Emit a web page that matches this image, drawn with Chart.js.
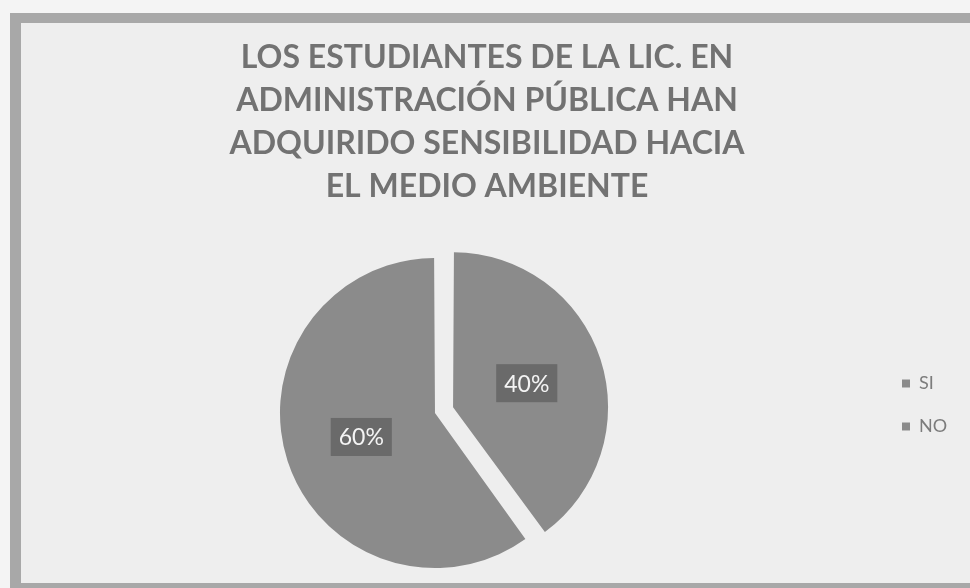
<!DOCTYPE html>
<html>
<head>
<meta charset="utf-8">
<script src="https://cdn.jsdelivr.net/npm/chart.js@4/dist/chart.umd.min.js"></script>
<style>
  html, body { margin: 0; padding: 0; width: 970px; height: 588px; overflow: hidden; background: #f4f4f4; }
  #frame {
    position: absolute; left: 10px; top: 13px; width: 960px; height: 575px; box-sizing: border-box;
    border-left: 11px solid #a8a8a8; border-top: 10px solid #a8a8a8; border-bottom: 5px solid #a8a8a8;
    background: #eeeeee;
  }
  #wrap { position: absolute; left: -10px; top: 0; width: 1000px; height: 588px; }
</style>
</head>
<body>
<div id="frame"></div>
<div id="wrap"><canvas id="c" width="1000" height="588"></canvas></div>
<script>
// ---- data ----
const titleLines = ['LOS ESTUDIANTES DE LA LIC. EN', 'ADMINISTRACIÓN PÚBLICA HAN', 'ADQUIRIDO SENSIBILIDAD HACIA', 'EL MEDIO AMBIENTE'];
const categories = ['SI', 'NO'];
const percentValues = [40, 60];

// ---- percentage label boxes (positioned from the arc elements) ----
const pctLabels = {
  id: 'pctLabels',
  afterDatasetsDraw(chart) {
    const ctx = chart.ctx;
    const meta = chart.getDatasetMeta(0);
    const ds = chart.data.datasets[0];
    meta.data.forEach((arc, i) => {
      const p = arc.getProps(['x', 'y', 'startAngle', 'endAngle', 'outerRadius', 'circumference'], true);
      const shift = (arc.options.offset || 0) / 4;
      const fix = 1 - Math.sin(Math.min(Math.PI, p.circumference || 0));
      const visR = p.outerRadius + shift * fix;
      const mid = (p.startAngle + p.endAngle) / 2;
      const d = shift + visR * 0.5;
      const lx = p.x + Math.cos(mid) * d;
      const ly = p.y + Math.sin(mid) * d;
      const text = ds.data[i] + '%';
      ctx.save();
      ctx.font = '23px Lato';
      const w = ctx.measureText(text).width + 16;
      const h = 38;
      ctx.fillStyle = '#6a6a6a';
      ctx.fillRect(lx - w / 2, ly - h / 2, w, h);
      ctx.fillStyle = '#f4f4f4';
      ctx.textAlign = 'center';
      ctx.textBaseline = 'middle';
      ctx.fillText(text, lx, ly + 1);
      ctx.restore();
    });
  }
};

// legend width -> spacer so that title centre and pie centre match the reference
const legendFontSize = 18;
const legendPad = 25;
const mc = document.createElement('canvas').getContext('2d');
mc.font = legendFontSize + 'px Lato';
const tw = Math.max(...categories.map(t => mc.measureText(t).width));
const legendWidth = legendPad + 8 + legendFontSize / 2 + tw + 10;
const spacerWidth = Math.max(93.46 - legendWidth, 1);

new Chart(document.getElementById('c'), {
  type: 'pie',
  data: {
    labels: categories,
    datasets: [{
      data: percentValues,
      backgroundColor: ['#8b8b8b', '#8b8b8b'],
      borderWidth: 0,
      offset: [53.8, 22.2],
      hoverOffset: 0
    }]
  },
  options: {
    responsive: false,
    animation: false,
    events: [],
    layout: { padding: { left: 13.54, right: 19.54, top: 0, bottom: 0.35 } },
    plugins: {
      title: {
        display: true,
        text: titleLines,
        color: '#727272',
        font: { family: 'Lato', size: 32, weight: 'bold', lineHeight: 43 / 32 },
        padding: { top: 36.5, bottom: 26.43 }
      },
      subtitle: {
        display: true,
        position: 'right',
        text: '',
        font: { size: 1, lineHeight: 1 },
        padding: { top: spacerWidth - 1, bottom: 0 }
      },
      legend: {
        position: 'right',
        align: 'center',
        labels: {
          boxWidth: 8, boxHeight: 8, padding: legendPad,
          color: '#7c7c7c',
          font: { family: 'Lato', size: legendFontSize }
        },
        title: { display: true, text: '', font: { size: 1, lineHeight: 1 }, padding: { top: 221.35, bottom: 0 } }
      },
      tooltip: { enabled: false }
    }
  },
  plugins: [pctLabels]
});
</script>
</body>
</html>
